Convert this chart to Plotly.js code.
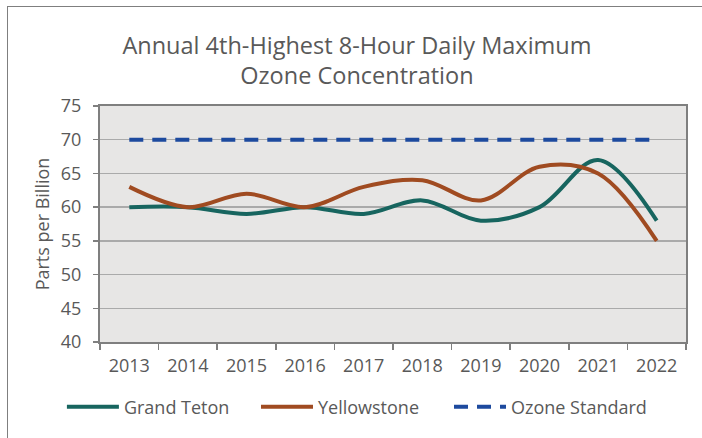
<!DOCTYPE html>
<html>
<head>
<meta charset="utf-8">
<script src="https://cdn.plot.ly/plotly-3.0.1.min.js"></script>
<style>
  html, body { margin: 0; padding: 0; background: #ffffff; }
  #wrap { position: relative; width: 702px; height: 438px; overflow: hidden; }
  #frame { position: absolute; left: 7px; top: 6px; width: 720px; height: 460px; border: 1px solid #7f7f7f; box-sizing: border-box; pointer-events: none; }
  #chart { position: absolute; left: 0; top: 0; width: 702px; height: 438px; }
</style>
</head>
<body>
<div id="wrap">
  <div id="chart"></div>
  <div id="frame"></div>
</div>
<script>
const years = ["2013", "2014", "2015", "2016", "2017", "2018", "2019", "2020", "2021", "2022"];
const grandTeton = [60, 60, 59, 60, 59, 61, 58, 60, 67, 58];
const yellowstone = [63, 60, 62, 60, 63, 64, 61, 66, 65, 55];
const ozoneStandard = [70, 70, 70, 70, 70, 70, 70, 70, 70, 70];
const yTicks = [40, 45, 50, 55, 60, 65, 70, 75];

const FONT = "'Open Sans', 'Noto Sans', sans-serif";
const TXT = "#595959";

const traces = [
  { x: years, y: grandTeton, name: "Grand Teton", type: "scatter", mode: "lines", legend: "legend",
    line: { color: "#17655f", width: 4, shape: "spline", smoothing: 1 } },
  { x: years, y: yellowstone, name: "Yellowstone", type: "scatter", mode: "lines", legend: "legend2",
    line: { color: "#a04b21", width: 4, shape: "spline", smoothing: 1 } },
  { x: years, y: ozoneStandard, name: "Ozone Standard", type: "scatter", mode: "lines", legend: "legend3",
    line: { color: "#1d4a9e", width: 4, dash: "14px,9px" } }
];

function legendAt(xPaper) {
  return {
    orientation: "h",
    x: xPaper, xanchor: "left",
    y: -0.276, yanchor: "middle",
    font: { family: FONT, size: 18, color: TXT },
    itemwidth: 52,
    bgcolor: "rgba(0,0,0,0)"
  };
}

const layout = {
  width: 702, height: 438,
  margin: { l: 100, r: 16, t: 106, b: 93 },
  paper_bgcolor: "rgba(0,0,0,0)",
  plot_bgcolor: "#e7e6e5",
  font: { family: FONT, color: TXT, size: 18 },
  title: {
    text: "Annual 4th-Highest 8-Hour Daily Maximum<br>Ozone Concentration",
    font: { family: FONT, size: 23.5, color: TXT },
    xref: "container", x: 0.5085, xanchor: "center",
    yref: "container", y: 0.877, yanchor: "middle"
  },
  xaxis: {
    type: "category",
    range: [-0.5, 9.5],
    tickson: "boundaries",
    ticks: "outside", ticklen: 6, tickcolor: "#7f7f7f", tickwidth: 1.5,
    showline: true, linecolor: "#7f7f7f", linewidth: 2, mirror: true,
    showgrid: false, zeroline: false,
    ticklabelstandoff: 6,
    tickfont: { family: FONT, size: 18, color: TXT },
    fixedrange: true
  },
  yaxis: {
    range: [40, 75],
    tickvals: yTicks,
    ticks: "outside", ticklen: 5, tickcolor: "#7f7f7f", tickwidth: 1.5,
    showline: true, linecolor: "#7f7f7f", linewidth: 2, mirror: true,
    showgrid: true, gridcolor: "#aaaaaa", gridwidth: 1.5,
    zeroline: false,
    ticklabelstandoff: 8,
    tickfont: { family: FONT, size: 18, color: TXT },
    title: { text: "Parts per Billion", font: { family: FONT, size: 18, color: TXT }, standoff: 7 },
    fixedrange: true
  },
  showlegend: true,
  legend: legendAt(-0.065),
  legend2: legendAt(0.2662),
  legend3: legendAt(0.5956)
};

Plotly.newPlot("chart", traces, layout, { displayModeBar: false, staticPlot: true });
</script>
</body>
</html>
